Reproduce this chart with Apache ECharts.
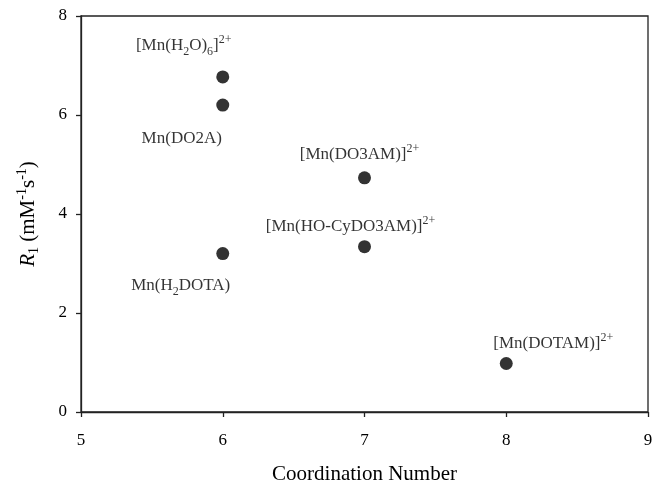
<!DOCTYPE html>
<html>
<head>
<meta charset="utf-8">
<script src="https://cdn.jsdelivr.net/npm/echarts@6/dist/echarts.min.js"></script>
<style>html,body{margin:0;padding:0;background:#fff}#c{width:653px;height:485px}</style>
</head>
<body>
<div id="c"></div>
<script>
const complexes = ['[Mn(H2O)6]2+', 'Mn(DO2A)', 'Mn(H2DOTA)', '[Mn(DO3AM)]2+', '[Mn(HO-CyDO3AM)]2+', '[Mn(DOTAM)]2+'];
const coordinationNumber = [6, 6, 6, 7, 7, 8];
const r1Values = [6.77, 6.2, 3.2, 4.73, 3.34, 0.98];
const xTicks = [5, 6, 7, 8, 9];
const yTicks = [0, 2, 4, 6, 8];

// rich-text versions of the labels
const richLabels = {
  '[Mn(H2O)6]2+': '{b|[Mn(H}{sub|2}{b|O)}{sub|6}{b|]}{sup|2+}',
  'Mn(DO2A)': '{b|Mn(DO2A)}',
  'Mn(H2DOTA)': '{b|Mn(H}{sub|2}{b|DOTA)}',
  '[Mn(DO3AM)]2+': '{b|[Mn(DO3AM)]}{sup|2+}',
  '[Mn(HO-CyDO3AM)]2+': '{b|[Mn(HO-CyDO3AM)]}{sup|2+}',
  '[Mn(DOTAM)]2+': '{b|[Mn(DOTAM)]}{sup|2+}'
};
const labelOffset = {
  '[Mn(H2O)6]2+': [-39, -31],
  'Mn(DO2A)': [-41, 33],
  'Mn(H2DOTA)': [-42, 32],
  '[Mn(DO3AM)]2+': [-5, -23],
  '[Mn(HO-CyDO3AM)]2+': [-14, -20],
  '[Mn(DOTAM)]2+': [47, -20]
};

const font = 'Liberation Serif, Times New Roman, serif';
const rich = {
  b: {fontSize: 17, fontFamily: font, color: '#000', lineHeight: 24},
  sub: {fontSize: 12, fontFamily: font, color: '#000', lineHeight: 12, verticalAlign: 'bottom'},
  sup: {fontSize: 12, fontFamily: font, color: '#000', lineHeight: 12, verticalAlign: 'top'}
};

const data = complexes.map((name, i) => ({
  name: name,
  value: [coordinationNumber[i], r1Values[i]],
  label: {
    show: true,
    position: 'inside',
    offset: labelOffset[name],
    formatter: richLabels[name],
    rich: rich
  }
}));

const chart = echarts.init(document.getElementById('c'));
chart.setOption({
  animation: false,
  backgroundColor: '#fff',
  grid: {left: 81, top: 16, width: 567, height: 396, outerBoundsMode: 'none', containLabel: false, show: true, borderColor: '#222', borderWidth: 1.3, backgroundColor: 'transparent'},
  xAxis: {
    type: 'value', min: xTicks[0], max: xTicks[xTicks.length - 1], interval: 1,
    name: 'Coordination Number', nameLocation: 'middle', nameGap: 52,
    nameTextStyle: {fontFamily: font, fontSize: 21, color: '#000'},
    axisLine: {show: true, lineStyle: {color: '#222', width: 1.3}},
    axisTick: {show: true, inside: false, length: 5, lineStyle: {color: '#222', width: 1.3}},
    axisLabel: {fontFamily: font, fontSize: 17, color: '#000', margin: 20},
    splitLine: {show: false}
  },
  yAxis: {
    type: 'value', min: yTicks[0], max: yTicks[yTicks.length - 1], interval: 2,
    name: '{i|R}{sub|1}{b| (mM}{sup|-1}{b|s}{sup|-1}{b|)}', nameLocation: 'middle', nameRotate: 90, nameGap: 40,
    nameTextStyle: {
      rich: {
        i: {fontSize: 21, fontFamily: font, fontStyle: 'italic', color: '#000', lineHeight: 26},
        b: {fontSize: 21, fontFamily: font, color: '#000', lineHeight: 26},
        sub: {fontSize: 14, fontFamily: font, color: '#000', lineHeight: 13, verticalAlign: 'bottom'},
        sup: {fontSize: 14, fontFamily: font, color: '#000', lineHeight: 13, verticalAlign: 'top'}
      }
    },
    axisLine: {show: true, lineStyle: {color: '#222', width: 1.3}},
    axisTick: {show: true, inside: false, length: 5, lineStyle: {color: '#222', width: 1.3}},
    axisLabel: {fontFamily: font, fontSize: 17, color: '#000', margin: 14},
    splitLine: {show: false}
  },
  series: [{
    type: 'scatter',
    symbol: 'circle',
    symbolSize: 13,
    itemStyle: {color: '#000'},
    data: data
  }]
});
</script>
</body>
</html>
